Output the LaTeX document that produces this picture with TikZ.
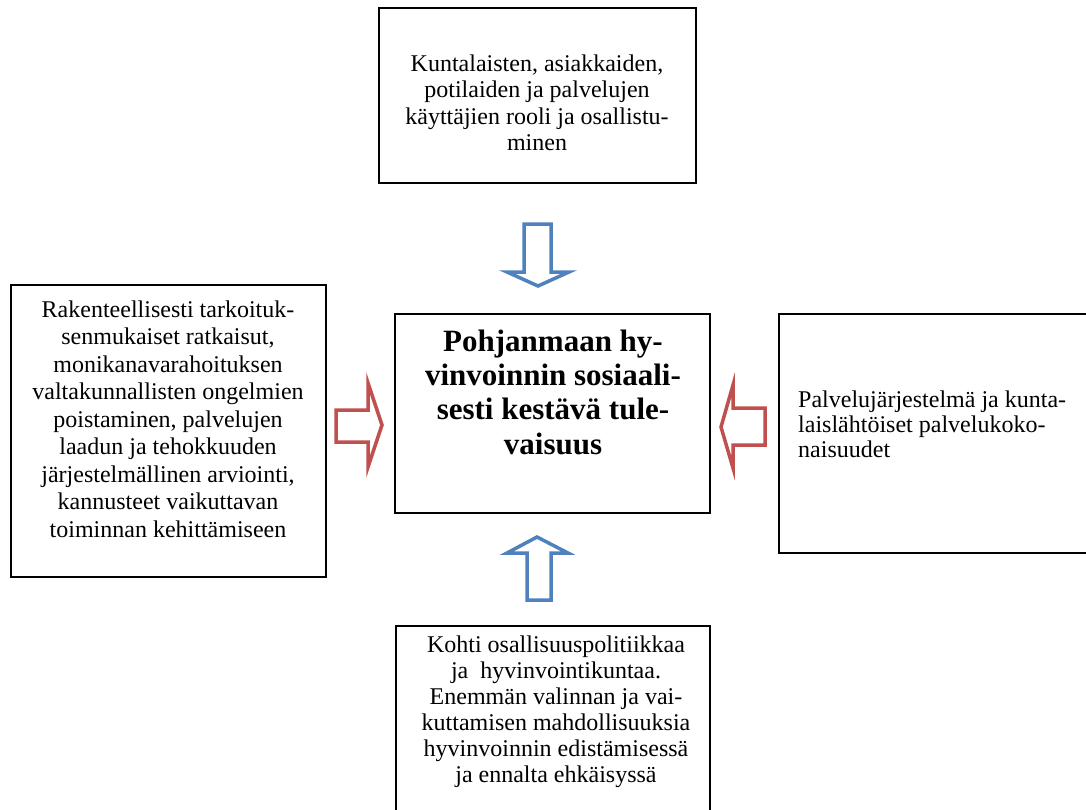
\documentclass[tikz,border=0pt]{standalone}
\usepackage{fontspec}
\setmainfont{Liberation Serif}
\definecolor{arrowblue}{HTML}{4F81BD}
\definecolor{arrowred}{HTML}{C0504D}
\tikzset{
  box/.style={draw=black, line width=1.6pt, fill=white, rectangle, inner sep=0pt, anchor=north west},
  txt/.style={inner sep=0pt, align=center, font=\fontsize{24}{26}\selectfont},
  bigtxt/.style={inner sep=0pt, align=center, font=\fontsize{31}{34.3}\selectfont\bfseries},
  blockblue/.style={draw=arrowblue, line width=3.5pt, fill=white, line join=miter},
  blockred/.style={draw=arrowred, line width=3.5pt, fill=white, line join=miter},
}
\begin{document}
\begin{tikzpicture}[x=1pt, y=-1pt]
\useasboundingbox (0,0) rectangle (1086,809);

% boxes
\node[box, minimum width=317pt, minimum height=175pt] (topbox) at (378,7) {};
\node[box, minimum width=315pt, minimum height=292pt] (leftbox) at (10,284) {};
\node[box, minimum width=315pt, minimum height=199pt] (centerbox) at (394,313) {};
\node[box, minimum width=330pt, minimum height=239pt] (rightbox) at (778,313) {};
\node[box, minimum width=314pt, minimum height=200pt] (bottombox) at (395,625) {};

% texts
\node[txt, font=\fontsize{24}{26.5}\selectfont] (toptext) at (537,103)
  {Kuntalaisten, asiakkaiden,\\potilaiden ja palvelujen\\käyttäjien rooli ja osallistu-\\minen};
\node[txt, font=\fontsize{24}{27.5}\selectfont] (lefttext) at (168,419)
  {Rakenteellisesti tarkoituk-\\senmukaiset ratkaisut,\\monikanavarahoituksen\\valtakunnallisten ongelmien\\poistaminen, palvelujen\\laadun ja tehokkuuden\\järjestelmällinen arviointi,\\kannusteet vaikuttavan\\toiminnan kehittämiseen};
\node[bigtxt] (centertext) at (553,392)
  {Pohjanmaan hy-\\vinvoinnin sosiaali-\\sesti kestävä tule-\\vaisuus};
\node[txt, font=\fontsize{24}{25}\selectfont, align=left, anchor=west] (righttext) at (798,424)
  {Palvelujärjestelmä ja kunta-\\laislähtöiset palvelukoko-\\naisuudet};
\node[txt, font=\fontsize{24}{26}\selectfont] (bottomtext) at (556,712)
  {Kohti osallisuuspolitiikkaa\\ja\ \ hyvinvointikuntaa.\\Enemmän valinnan ja vai-\\kuttamisen mahdollisuuksia\\hyvinvoinnin edistämisessä\\ja ennalta ehkäisyssä};

% block arrows pointing at the central box
\draw[blockblue] (524,224) -- (551,224) -- (551,272) -- (569,272) -- (538,286)
  -- (507,272) -- (524,272) -- cycle;
\draw[blockblue] (527,600) -- (551,600) -- (551,553) -- (568,553) -- (537,537)
  -- (507,553) -- (527,553) -- cycle;
\draw[blockred] (336,410) -- (368,410) -- (368,383) -- (382,425) -- (368,467)
  -- (368,442) -- (336,442) -- cycle;
\draw[blockred] (765,408) -- (733,408) -- (733,385) -- (721,427) -- (733,468)
  -- (733,445) -- (765,445) -- cycle;
\end{tikzpicture}
\end{document}
